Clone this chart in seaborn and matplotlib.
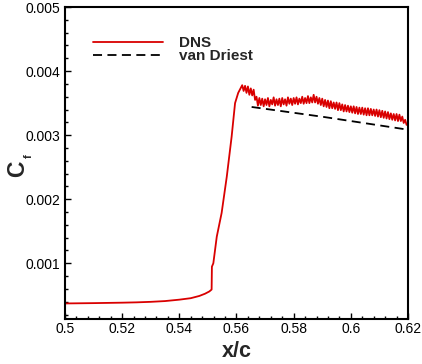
import numpy as np
import pandas as pd
import matplotlib
matplotlib.use("Agg")
import matplotlib.pyplot as plt
from matplotlib.ticker import FixedLocator, FixedFormatter, MultipleLocator
import seaborn as sns

# ---------------- data ----------------
# smooth laminar part + transition ramp of the DNS curve
dns_x_smooth = [0.500, 0.505, 0.510, 0.515, 0.520, 0.525, 0.530, 0.535,
                0.540, 0.544, 0.547, 0.549, 0.5505, 0.5510, 0.5513, 0.5514,
                0.5519, 0.5531, 0.5548, 0.5566, 0.5583, 0.5595, 0.5606,
                0.5613]
dns_cf_smooth = [0.000373, 0.000375, 0.000378, 0.000381, 0.000385, 0.000390,
                 0.000398, 0.000410, 0.000432, 0.000455, 0.000490, 0.000525,
                 0.000560, 0.000580, 0.000590, 0.000947, 0.001000, 0.001415,
                 0.001785, 0.002351, 0.002976, 0.003500, 0.003660, 0.003720]

# noisy turbulent part of the DNS curve (Cf in units of 1e-5)
dns_x_noisy = [0.5620, 0.5625, 0.5630, 0.5635, 0.5640, 0.5645, 0.5650, 0.5655,
               0.5660, 0.5665, 0.5670, 0.5675, 0.5680, 0.5685, 0.5690, 0.5695,
               0.5700, 0.5705, 0.5710, 0.5715, 0.5720, 0.5725, 0.5730, 0.5735,
               0.5740, 0.5745, 0.5750, 0.5755, 0.5760, 0.5765, 0.5770, 0.5775,
               0.5780, 0.5785, 0.5790, 0.5795, 0.5800, 0.5805, 0.5810, 0.5815,
               0.5820, 0.5825, 0.5830, 0.5835, 0.5840, 0.5845, 0.5850, 0.5855,
               0.5860, 0.5865, 0.5870, 0.5875, 0.5880, 0.5885, 0.5890, 0.5895,
               0.5900, 0.5905, 0.5910, 0.5915, 0.5920, 0.5925, 0.5930, 0.5935,
               0.5940, 0.5945, 0.5950, 0.5955, 0.5960, 0.5965, 0.5970, 0.5975,
               0.5980, 0.5985, 0.5990, 0.5995, 0.6000, 0.6005, 0.6010, 0.6015,
               0.6020, 0.6025, 0.6030, 0.6035, 0.6040, 0.6045, 0.6050, 0.6055,
               0.6060, 0.6065, 0.6070, 0.6075, 0.6080, 0.6085, 0.6090, 0.6095,
               0.6100, 0.6105, 0.6110, 0.6115, 0.6120, 0.6125, 0.6130, 0.6135,
               0.6140, 0.6145, 0.6150, 0.6155, 0.6160, 0.6165, 0.6170, 0.6175,
               0.6180, 0.6185, 0.6190, 0.6195, 0.6198]
dns_cf_noisy_1e5 = [378, 369, 377, 366, 376, 363, 373, 362,
                    371, 355, 360, 346, 358, 347, 357, 345,
                    356, 347, 358, 345, 355, 348, 359, 346,
                    356, 347, 357, 345, 358, 348, 356, 346,
                    359, 349, 357, 347, 358, 349, 359, 348,
                    357, 350, 360, 349, 358, 350, 361, 350,
                    359, 351, 363, 351, 360, 349, 358, 347,
                    357, 345, 355, 344, 354, 342, 353, 342,
                    351, 341, 351, 339, 350, 339, 348, 337,
                    347, 337, 346, 336, 345, 335, 345, 334,
                    344, 333, 343, 333, 343, 332, 342, 331,
                    342, 331, 341, 331, 340, 330, 340, 329,
                    339, 328, 338, 327, 337, 326, 336, 325,
                    334, 324, 333, 323, 333, 322, 332, 322,
                    329, 319, 324, 316, 317]

# van Driest correlation
vd_x = [0.5653, 0.5904, 0.6200]
vd_cf = [0.003440, 0.003285, 0.003085]

x_ticks = [0.50, 0.52, 0.54, 0.56, 0.58, 0.60, 0.62]
x_tick_labels = ["0.5", "0.52", "0.54", "0.56", "0.58", "0.6", "0.62"]
y_ticks = [0.001, 0.002, 0.003, 0.004, 0.005]
y_tick_labels = ["0.001", "0.002", "0.003", "0.004", "0.005"]

# ---------------- build tables ----------------
dns = pd.DataFrame({
    "x": list(dns_x_smooth) + list(dns_x_noisy),
    "cf": list(dns_cf_smooth) + [v * 1e-5 for v in dns_cf_noisy_1e5],
})
vd = pd.DataFrame({"x": vd_x, "cf": vd_cf})

# ---------------- style ----------------
sns.set_theme(style="white")
plt.rcParams["font.family"] = ["Liberation Sans", "DejaVu Sans"]
plt.rcParams["axes.edgecolor"] = "black"
plt.rcParams["xtick.color"] = "black"
plt.rcParams["ytick.color"] = "black"

RED = "#d90000"

fig = plt.figure(figsize=(4.22, 3.64), dpi=100)
ax = fig.add_axes([0.1540, 0.1236, 0.8128, 0.8571])

sns.lineplot(data=dns, x="x", y="cf", ax=ax, color=RED, lw=1.3,
             estimator=None, sort=False, label="DNS")
sns.lineplot(data=vd, x="x", y="cf", ax=ax, color="black", lw=1.3,
             estimator=None, sort=False, label="van Driest")
ax.lines[-1].set_dashes((5.0, 3.0))

ax.set_xlim(0.5, 0.62)
ax.set_ylim(0.00013, 0.005)

ax.xaxis.set_major_locator(FixedLocator(x_ticks))
ax.xaxis.set_major_formatter(FixedFormatter(x_tick_labels))
ax.xaxis.set_minor_locator(MultipleLocator(0.004))
ax.yaxis.set_major_locator(FixedLocator(y_ticks))
ax.yaxis.set_major_formatter(FixedFormatter(y_tick_labels))
ax.yaxis.set_minor_locator(MultipleLocator(0.0002))

ax.tick_params(which="both", direction="in", top=False, right=False,
               bottom=True, left=True, width=1.0, colors="black")
ax.tick_params(which="major", length=4.3, labelsize=10)
ax.tick_params(which="minor", length=2.2)
ax.tick_params(axis="x", pad=2.5)
ax.tick_params(axis="y", pad=3.6)

for s in ax.spines.values():
    s.set_linewidth(1.5)
    s.set_color("black")

ax.set_xlabel("x/c", fontsize=15.5, fontweight="bold", labelpad=3.5)
ax.set_ylabel("C", fontsize=16.5, fontweight="bold")
ax.yaxis.set_label_coords(-0.105, 0.483)
ax.text(-0.105, 0.522, "f", transform=ax.transAxes, rotation=90,
        fontsize=8, fontweight="bold", ha="center", va="center")

leg = ax.legend(loc="upper left", bbox_to_anchor=(0.0816, 0.907),
                frameon=False, fontsize=11.0, handlelength=4.6,
                handletextpad=1.0, labelspacing=-0.05, borderpad=0,
                borderaxespad=0)
for t in leg.get_texts():
    t.set_fontweight("bold")

fig.savefig("out.png", dpi=100, facecolor="white")
